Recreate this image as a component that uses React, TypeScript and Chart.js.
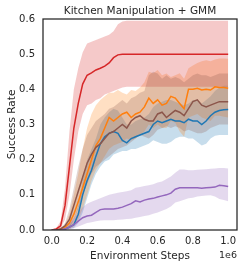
import React, { useEffect, useRef } from "react";
import { Chart, registerables } from "chart.js";
Chart.register(...registerables);

const TITLE = "Kitchen Manipulation + GMM";
const X_LABEL = "Environment Steps";
const Y_LABEL = "Success Rate";
const X_OFFSET_LABEL = "1e6";
const X_TICKS = [0, 0.2, 0.4, 0.6, 0.8, 1.0];
const Y_TICKS = [0, 0.1, 0.2, 0.3, 0.4, 0.5, 0.6];

const STEPS = [0, 0.025, 0.05, 0.075, 0.1, 0.125, 0.15, 0.175, 0.2, 0.225, 0.25, 0.275, 0.3, 0.325, 0.35, 0.375, 0.4, 0.425, 0.45, 0.475, 0.5, 0.525, 0.55, 0.575, 0.6, 0.625, 0.65, 0.675, 0.7, 0.725, 0.75, 0.775, 0.8, 0.825, 0.85, 0.875, 0.9, 0.925, 0.95, 0.975, 1.0];

const BLUE_MEAN = [0, 0, 0.001, 0.003, 0.008, 0.015, 0.045, 0.1, 0.14, 0.17, 0.21, 0.245, 0.265, 0.275, 0.28, 0.275, 0.255, 0.248, 0.26, 0.265, 0.27, 0.275, 0.28, 0.3, 0.31, 0.305, 0.31, 0.315, 0.31, 0.31, 0.305, 0.315, 0.31, 0.31, 0.3, 0.31, 0.325, 0.335, 0.34, 0.342, 0.343];
const BLUE_LO = [0, 0, 0, 0.001, 0.003, 0.006, 0.02, 0.05, 0.09, 0.13, 0.16, 0.18, 0.195, 0.2, 0.215, 0.22, 0.225, 0.225, 0.23, 0.23, 0.235, 0.24, 0.245, 0.255, 0.25, 0.245, 0.245, 0.25, 0.26, 0.265, 0.265, 0.26, 0.26, 0.25, 0.24, 0.245, 0.26, 0.268, 0.27, 0.27, 0.27];
const BLUE_HI = [0, 0, 0.002, 0.006, 0.015, 0.03, 0.07, 0.14, 0.2, 0.23, 0.26, 0.3, 0.32, 0.335, 0.345, 0.34, 0.32, 0.3, 0.3, 0.31, 0.315, 0.32, 0.33, 0.35, 0.36, 0.365, 0.37, 0.37, 0.365, 0.36, 0.355, 0.36, 0.37, 0.37, 0.36, 0.37, 0.38, 0.395, 0.405, 0.41, 0.41];

const ORANGE_MEAN = [0, 0, 0.002, 0.008, 0.02, 0.045, 0.08, 0.12, 0.16, 0.2, 0.24, 0.26, 0.29, 0.32, 0.31, 0.32, 0.33, 0.335, 0.32, 0.33, 0.335, 0.35, 0.375, 0.36, 0.37, 0.355, 0.36, 0.38, 0.375, 0.36, 0.345, 0.4, 0.4, 0.403, 0.398, 0.4, 0.398, 0.407, 0.405, 0.405, 0.403];
const ORANGE_LO = [0, 0, 0, 0.001, 0.002, 0.01, 0.03, 0.06, 0.1, 0.14, 0.17, 0.19, 0.21, 0.23, 0.24, 0.245, 0.25, 0.26, 0.255, 0.26, 0.27, 0.28, 0.3, 0.29, 0.3, 0.29, 0.29, 0.31, 0.305, 0.28, 0.265, 0.32, 0.325, 0.33, 0.32, 0.315, 0.31, 0.325, 0.325, 0.322, 0.32];
const ORANGE_HI = [0, 0.001, 0.005, 0.015, 0.045, 0.1, 0.16, 0.23, 0.29, 0.33, 0.355, 0.37, 0.38, 0.39, 0.39, 0.398, 0.39, 0.385, 0.398, 0.395, 0.405, 0.42, 0.45, 0.446, 0.455, 0.44, 0.445, 0.435, 0.44, 0.446, 0.43, 0.46, 0.468, 0.475, 0.48, 0.483, 0.48, 0.485, 0.488, 0.488, 0.487];

const RED_MEAN = [0, 0.003, 0.012, 0.07, 0.18, 0.29, 0.36, 0.415, 0.44, 0.447, 0.455, 0.46, 0.466, 0.475, 0.49, 0.498, 0.5, 0.5, 0.5, 0.5, 0.5, 0.5, 0.5, 0.5, 0.5, 0.5, 0.5, 0.5, 0.5, 0.5, 0.5, 0.5, 0.5, 0.5, 0.5, 0.5, 0.5, 0.5, 0.5, 0.5, 0.5];
const RED_LO = [0, 0, 0.005, 0.03, 0.1, 0.2, 0.28, 0.33, 0.355, 0.36, 0.37, 0.375, 0.385, 0.39, 0.395, 0.4, 0.405, 0.407, 0.407, 0.407, 0.407, 0.407, 0.407, 0.407, 0.407, 0.407, 0.407, 0.407, 0.407, 0.407, 0.407, 0.407, 0.407, 0.407, 0.407, 0.407, 0.407, 0.407, 0.407, 0.407, 0.407];
const RED_HI = [0, 0.006, 0.025, 0.12, 0.28, 0.4, 0.46, 0.505, 0.53, 0.535, 0.54, 0.545, 0.55, 0.555, 0.565, 0.585, 0.593, 0.595, 0.595, 0.595, 0.595, 0.595, 0.595, 0.595, 0.595, 0.595, 0.595, 0.595, 0.595, 0.595, 0.595, 0.595, 0.595, 0.595, 0.595, 0.595, 0.595, 0.595, 0.595, 0.595, 0.595];

const PURPLE_MEAN = [0, 0, 0.001, 0.003, 0.008, 0.015, 0.025, 0.035, 0.04, 0.042, 0.05, 0.058, 0.06, 0.06, 0.06, 0.062, 0.065, 0.07, 0.075, 0.083, 0.08, 0.085, 0.088, 0.09, 0.094, 0.097, 0.1, 0.105, 0.116, 0.12, 0.12, 0.12, 0.12, 0.12, 0.119, 0.12, 0.121, 0.122, 0.127, 0.126, 0.124];
const PURPLE_LO = [0, 0, 0, 0, 0.002, 0.005, 0.01, 0.015, 0.02, 0.022, 0.025, 0.027, 0.028, 0.028, 0.028, 0.029, 0.03, 0.031, 0.032, 0.035, 0.037, 0.04, 0.042, 0.046, 0.05, 0.055, 0.06, 0.067, 0.078, 0.082, 0.086, 0.09, 0.092, 0.095, 0.097, 0.098, 0.099, 0.095, 0.088, 0.085, 0.082];
const PURPLE_HI = [0, 0, 0.003, 0.008, 0.02, 0.035, 0.05, 0.065, 0.075, 0.08, 0.085, 0.09, 0.095, 0.1, 0.103, 0.106, 0.108, 0.11, 0.113, 0.12, 0.122, 0.125, 0.127, 0.13, 0.135, 0.138, 0.145, 0.152, 0.163, 0.172, 0.172, 0.17, 0.17, 0.171, 0.172, 0.173, 0.174, 0.175, 0.176, 0.176, 0.175];

const BROWN_MEAN = [0, 0, 0.003, 0.012, 0.03, 0.07, 0.11, 0.15, 0.19, 0.215, 0.235, 0.245, 0.26, 0.275, 0.28, 0.29, 0.3, 0.29, 0.31, 0.32, 0.325, 0.315, 0.31, 0.31, 0.33, 0.335, 0.32, 0.33, 0.34, 0.335, 0.325, 0.345, 0.365, 0.37, 0.355, 0.35, 0.355, 0.36, 0.365, 0.365, 0.365];
const BROWN_LO = [0, 0, 0, 0.001, 0.005, 0.03, 0.06, 0.1, 0.13, 0.16, 0.18, 0.19, 0.2, 0.21, 0.22, 0.23, 0.235, 0.24, 0.25, 0.26, 0.27, 0.265, 0.26, 0.27, 0.285, 0.29, 0.295, 0.29, 0.295, 0.29, 0.28, 0.285, 0.28, 0.275, 0.275, 0.28, 0.29, 0.295, 0.3, 0.3, 0.3];
const BROWN_HI = [0, 0.001, 0.006, 0.02, 0.06, 0.12, 0.18, 0.23, 0.27, 0.29, 0.31, 0.32, 0.33, 0.345, 0.35, 0.36, 0.37, 0.36, 0.375, 0.38, 0.39, 0.395, 0.44, 0.45, 0.445, 0.43, 0.44, 0.43, 0.435, 0.43, 0.42, 0.43, 0.44, 0.445, 0.44, 0.44, 0.435, 0.44, 0.445, 0.445, 0.445];

const SERIES = [
  { color: [31, 119, 180], mean: BLUE_MEAN, lo: BLUE_LO, hi: BLUE_HI },
  { color: [255, 127, 14], mean: ORANGE_MEAN, lo: ORANGE_LO, hi: ORANGE_HI },
  { color: [214, 39, 40], mean: RED_MEAN, lo: RED_LO, hi: RED_HI },
  { color: [148, 103, 189], mean: PURPLE_MEAN, lo: PURPLE_LO, hi: PURPLE_HI },
  { color: [140, 86, 75], mean: BROWN_MEAN, lo: BROWN_LO, hi: BROWN_HI },
];

const TEXT = "#262626";
const FONT = '"DejaVu Sans", sans-serif';

const pts = (arr: number[]) => arr.map((y, i) => ({ x: STEPS[i], y }));

const decor = {
  id: "decor",
  afterDraw(chart: any) {
    const { ctx, chartArea: a } = chart;
    ctx.save();
    ctx.strokeStyle = TEXT;
    ctx.lineWidth = 1.25;
    ctx.strokeRect(a.left, a.top, a.right - a.left, a.bottom - a.top);
    ctx.fillStyle = TEXT;
    const cx = (a.left + a.right) / 2;
    ctx.font = `10.5px ${FONT}`;
    ctx.textAlign = "center";
    ctx.textBaseline = "alphabetic";
    ctx.fillText(TITLE, cx, 14);
    ctx.fillText(X_LABEL, cx, 259);
    ctx.font = `9.5px ${FONT}`;
    ctx.textAlign = "right";
    ctx.fillText(X_OFFSET_LABEL, a.right, 257.5);
    ctx.font = `10.5px ${FONT}`;
    ctx.translate(15, (a.top + a.bottom) / 2);
    ctx.rotate(-Math.PI / 2);
    ctx.textAlign = "center";
    ctx.fillText(Y_LABEL, 0, 0);
    ctx.restore();
  },
};

export default function App() {
  const ref = useRef<HTMLCanvasElement>(null);
  useEffect(() => {
    if (!ref.current) return;
    const datasets: any[] = [];
    SERIES.forEach((s, k) => {
      const [r, g, b] = s.color;
      datasets.push({
        data: pts(s.lo),
        borderWidth: 0,
        pointRadius: 0,
        fill: false,
        order: 100 - k * 2,
      });
      datasets.push({
        data: pts(s.hi),
        borderWidth: 0,
        pointRadius: 0,
        fill: "-1",
        backgroundColor: `rgba(${r},${g},${b},0.25)`,
        order: 100 - k * 2 - 1,
      });
    });
    SERIES.forEach((s, k) => {
      const [r, g, b] = s.color;
      datasets.push({
        data: pts(s.mean),
        borderColor: `rgb(${r},${g},${b})`,
        borderWidth: 1.5,
        pointRadius: 0,
        fill: false,
        order: 10 - k,
      });
    });
    const chart = new Chart(ref.current, {
      type: "line",
      data: { datasets },
      plugins: [decor],
      options: {
        animation: false,
        responsive: false,
        devicePixelRatio: 1,
        layout: { padding: { top: 19, right: 7, left: 0, bottom: 0 } },
        plugins: { legend: { display: false }, tooltip: { enabled: false }, title: { display: false } },
        elements: { line: { tension: 0 } },
        scales: {
          x: {
            type: "linear",
            min: -0.05,
            max: 1.05,
            grid: { display: false, drawTicks: false },
            border: { display: false },
            afterBuildTicks: (sc: any) => {
              sc.ticks = X_TICKS.map((v) => ({ value: v }));
            },
            afterFit: (sc: any) => {
              sc.height = 37;
            },
            ticks: {
              autoSkip: false,
              maxRotation: 0,
              padding: 5,
              color: TEXT,
              font: { family: FONT, size: 10 },
              callback: (v: any) => Number(v).toFixed(1),
            },
          },
          y: {
            type: "linear",
            min: 0,
            max: 0.6,
            grid: { display: false, drawTicks: false },
            border: { display: false },
            afterBuildTicks: (sc: any) => {
              sc.ticks = Y_TICKS.map((v) => ({ value: v }));
            },
            afterFit: (sc: any) => {
              sc.width = 43;
            },
            ticks: {
              autoSkip: false,
              padding: 8,
              color: TEXT,
              font: { family: FONT, size: 10 },
              callback: (v: any) => Number(v).toFixed(1),
            },
          },
        },
      },
    });
    return () => chart.destroy();
  }, []);
  return (
    <div style={{ position: "absolute", left: 0, top: 0, width: 244, height: 267, background: "#fff" }}>
      <canvas ref={ref} width={244} height={267} style={{ width: 244, height: 267, display: "block" }} />
    </div>
  );
}
